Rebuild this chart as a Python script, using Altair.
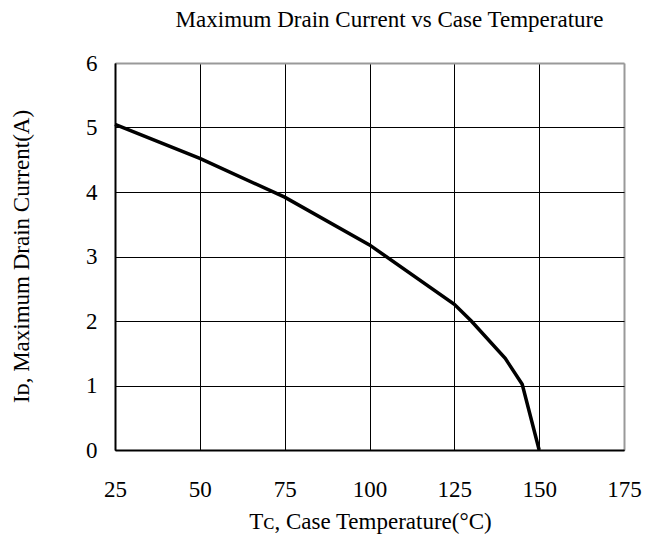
import altair as alt
import pandas as pd

temps = [25, 50, 75, 100, 125, 130, 140, 145, 150]
currents = [5.05, 4.52, 3.92, 3.18, 2.26, 2.0, 1.42, 1.02, 0.0]

df = pd.DataFrame({"t": temps, "i": currents})

FONT = "Liberation Serif"

x_grid_color = {"condition": {"test": "datum.value == 175", "value": "#999999"}, "value": "black"}
x_grid_width = {"condition": {"test": "datum.value == 175", "value": 2}, "value": 1}
y_grid_color = {"condition": {"test": "datum.value == 6", "value": "#999999"}, "value": "black"}
y_grid_width = {"condition": {"test": "datum.value == 6", "value": 2}, "value": 1}

chart = alt.Chart(df).mark_line(color="black", strokeWidth=3.5, strokeJoin="miter").encode(
    x=alt.X("t:Q", scale=alt.Scale(domain=[25, 175], nice=False, zero=False),
            axis=alt.Axis(values=[25, 50, 75, 100, 125, 150, 175], title="Tᴄ, Case Temperature(°C)",
                          labelFont=FONT, labelFontSize=23, labelColor="black", labelFontWeight="normal",
                          labelFlush=False, labelOverlap=False,
                          labelPadding=28, tickSize=0, grid=True, gridColor=x_grid_color, gridWidth=x_grid_width,
                          domainColor="black", domainWidth=2,
                          titleFont=FONT, titleFontSize=23, titleFontWeight="normal", titleColor="black",
                          titleX=255, titleY=78, titleBaseline="alphabetic", titleAlign="center")),
    y=alt.Y("i:Q", scale=alt.Scale(domain=[0, 6], nice=False),
            axis=alt.Axis(values=[0, 1, 2, 3, 4, 5, 6], title="Iᴅ, Maximum Drain Current(A)",
                          labelFont=FONT, labelFontSize=23, labelColor="black", labelFontWeight="normal",
                          labelFlush=False, labelOverlap=False,
                          labelPadding=18, tickSize=0, grid=True, gridColor=y_grid_color, gridWidth=y_grid_width,
                          domainColor="black", domainWidth=2,
                          titleFont=FONT, titleFontSize=23, titleFontWeight="normal", titleColor="black",
                          titleX=-94, titleY=193, titleAngle=-90, titleBaseline="middle", titleAlign="center")),
).properties(
    width=509, height=387,
    title=alt.TitleParams("Maximum Drain Current vs Case Temperature", font=FONT, fontSize=23,
                          fontWeight="normal", color="black", offset=20, dx=20),
    autosize=alt.AutoSizeParams(type="none"),
    padding={"left": 107, "top": 55, "right": 21, "bottom": 85},
).configure_view(stroke="#999999", strokeWidth=2).configure(background="white")

chart.save("out.html", embed_options={"renderer": "svg", "actions": False})
